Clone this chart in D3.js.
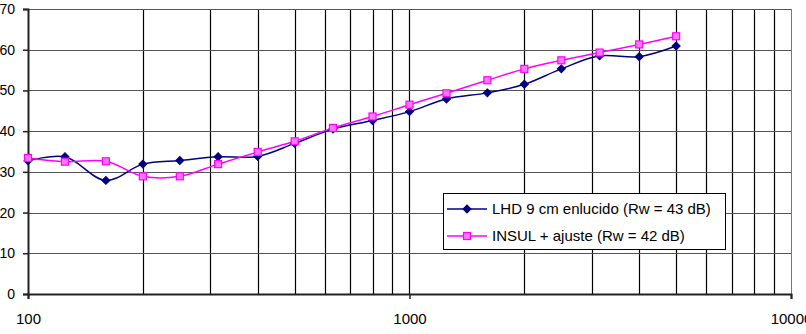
<!DOCTYPE html>
<html><head><meta charset="utf-8">
<script src="https://cdn.jsdelivr.net/npm/d3@7"></script>
<style>body{margin:0;background:#fff}svg{display:block}text{font-family:"Liberation Sans",Arial,sans-serif}</style>
</head><body><svg id="c" width="806" height="334"></svg>
<script>
const freqs = [100,125,160,200,250,315,400,500,630,800,1000,1250,1600,2000,2500,3150,4000,5000];
const lhd = [32.7,33.7,27.9,31.9,32.8,33.7,33.8,37.0,40.5,42.6,44.8,47.9,49.4,51.5,55.3,58.5,58.3,60.9];
const insul = [33.4,32.5,32.6,28.9,28.9,31.9,34.9,37.5,40.8,43.6,46.5,49.3,52.5,55.3,57.4,59.3,61.3,63.3];
const seriesNames = ["LHD 9 cm enlucido (Rw = 43 dB)","INSUL + ajuste (Rw = 42 dB)"];
const xTicks = [100,1000,10000];
const yTicks = [0,10,20,30,40,50,60,70];

const svg = d3.select("#c");
const L=28,R=791,T=9,B=294;
const x = d3.scaleLog().domain([100,10000]).range([L,R]);
const y = d3.scaleLinear().domain([0,70]).range([B,T]);

// minor vertical grid
const minors=[];
[100,1000].forEach(d=>{for(let k=2;k<=9;k++)minors.push(d*k);});
svg.append("g").selectAll("line").data(minors.concat([1000])).join("line")
  .attr("x1",d=>Math.round(x(d))+0.5).attr("x2",d=>Math.round(x(d))+0.5)
  .attr("y1",T).attr("y2",B).attr("stroke","#000").attr("stroke-width",1.2);
// horizontal grid
svg.append("g").selectAll("line").data(yTicks.filter(d=>d>0)).join("line")
  .attr("x1",L).attr("x2",R).attr("y1",d=>Math.round(y(d))+0.5).attr("y2",d=>Math.round(y(d))+0.5)
  .attr("stroke","#555").attr("stroke-width",1.2);
// right border
svg.append("line").attr("x1",R+0.5).attr("x2",R+0.5).attr("y1",T).attr("y2",B).attr("stroke","#777");

// axes
const ya = d3.axisLeft(y).tickValues(yTicks).tickSize(5).tickPadding(8).tickFormat(d3.format("d"));
const gy = svg.append("g").attr("transform",`translate(${L},0)`).call(ya);
const xa = d3.axisBottom(x).tickValues(xTicks).tickSize(5).tickPadding(14).tickFormat(d3.format("d"));
const gx = svg.append("g").attr("transform",`translate(0,${B})`).call(xa);
[gy,gx].forEach(g=>{
  g.select(".domain").attr("stroke","#222").attr("stroke-width",2);
  g.selectAll(".tick line").attr("stroke","#222").attr("stroke-width",1.5);
  g.selectAll("text").attr("fill","#000").attr("font-family","Liberation Sans, Arial, sans-serif");
});
gy.selectAll("text").attr("font-size",14);
gx.selectAll("text").attr("font-size",15);

const line = d3.line().x(d=>x(d[0])).y(d=>y(d[1])).curve(d3.curveCatmullRom.alpha(0.5));
const colors=["#000080","#ff00ff"];
const datasets=[lhd,insul];
datasets.forEach((vals,i)=>{
  const pts=freqs.map((f,j)=>[f,vals[j]]);
  svg.append("path").datum(pts).attr("d",line).attr("fill","none").attr("stroke",colors[i]).attr("stroke-width",1.5);
});
function drawMarker(g,i,cx,cy){
  if(i===0){
    g.append("path").attr("d",d3.symbol().type(d3.symbolSquare).size(32)())
      .attr("transform",`translate(${cx},${cy}) rotate(45)`).attr("fill","#000080").attr("stroke","#000080");
  } else {
    g.append("rect").attr("x",cx-3.5).attr("y",cy-3.5).attr("width",7).attr("height",7)
      .attr("fill","#ff77ff").attr("stroke","#ff00ff").attr("stroke-width",1.2);
  }
}
datasets.forEach((vals,i)=>{
  const g=svg.append("g");
  freqs.forEach((f,j)=>drawMarker(g,i,x(f),y(vals[j])));
});

// legend
const lg=svg.append("g");
lg.append("rect").attr("x",443.5).attr("y",193.5).attr("width",282).attr("height",56).attr("fill","#fff").attr("stroke","#000").attr("stroke-width",1);
seriesNames.forEach((n,i)=>{
  const yy=209+i*27;
  lg.append("line").attr("x1",447).attr("x2",487).attr("y1",yy).attr("y2",yy).attr("stroke",colors[i]).attr("stroke-width",1.5);
  drawMarker(lg,i,467,yy);
  lg.append("text").attr("x",492).attr("y",yy).attr("dy","0.35em").attr("font-size",15).text(n);
});
</script></body></html>
